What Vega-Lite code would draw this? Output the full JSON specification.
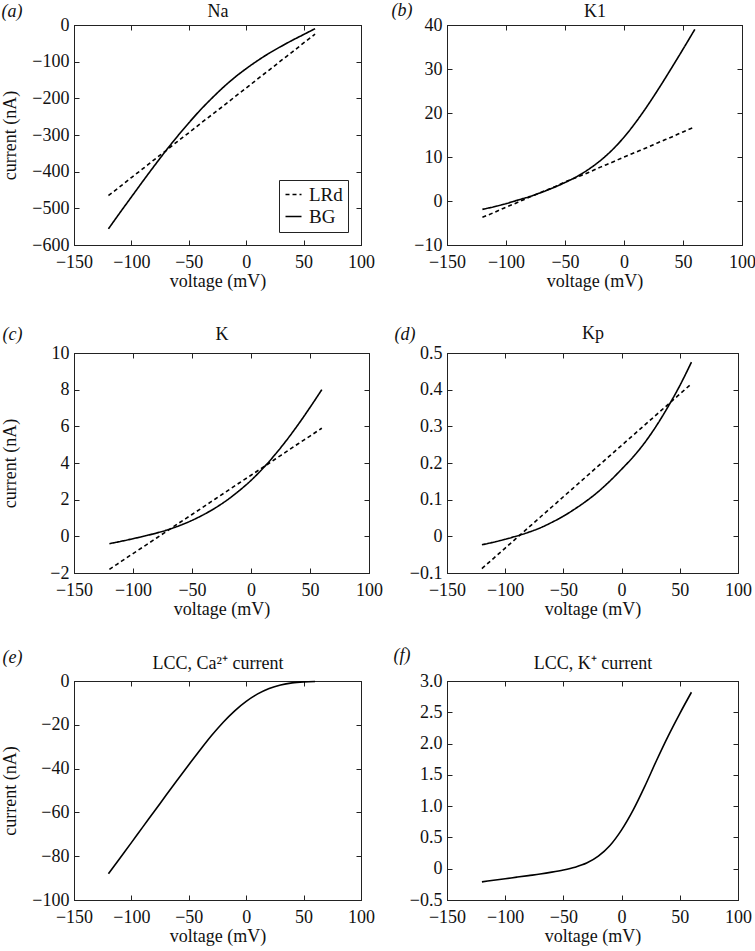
{
  "$schema": "https://vega.github.io/schema/vega-lite/v6.json",
  "padding": {"left": 0, "top": 0, "right": 0, "bottom": 0},
  "background": "white",
  "datasets": {
    "na": [
      {"model": "LRd", "voltage": -120, "current": -465}, {"model": "LRd", "voltage": -110, "current": -441}, {"model": "LRd", "voltage": -100, "current": -416}, {"model": "LRd", "voltage": -90, "current": -392}, {"model": "LRd", "voltage": -80, "current": -367}, {"model": "LRd", "voltage": -70, "current": -343}, {"model": "LRd", "voltage": -60, "current": -318}, {"model": "LRd", "voltage": -50, "current": -294}, {"model": "LRd", "voltage": -40, "current": -269}, {"model": "LRd", "voltage": -30, "current": -245}, {"model": "LRd", "voltage": -20, "current": -221}, {"model": "LRd", "voltage": -10, "current": -196}, {"model": "LRd", "voltage": 0, "current": -172}, {"model": "LRd", "voltage": 10, "current": -147}, {"model": "LRd", "voltage": 20, "current": -123}, {"model": "LRd", "voltage": 30, "current": -98}, {"model": "LRd", "voltage": 40, "current": -74}, {"model": "LRd", "voltage": 50, "current": -49}, {"model": "LRd", "voltage": 60, "current": -25},
      {"model": "BG", "voltage": -120, "current": -556}, {"model": "BG", "voltage": -110, "current": -512}, {"model": "BG", "voltage": -100, "current": -469}, {"model": "BG", "voltage": -90, "current": -426}, {"model": "BG", "voltage": -80, "current": -384}, {"model": "BG", "voltage": -70, "current": -343}, {"model": "BG", "voltage": -60, "current": -304}, {"model": "BG", "voltage": -50, "current": -267}, {"model": "BG", "voltage": -40, "current": -232}, {"model": "BG", "voltage": -30, "current": -200}, {"model": "BG", "voltage": -20, "current": -170}, {"model": "BG", "voltage": -10, "current": -143}, {"model": "BG", "voltage": 0, "current": -119}, {"model": "BG", "voltage": 10, "current": -97}, {"model": "BG", "voltage": 20, "current": -77}, {"model": "BG", "voltage": 30, "current": -59}, {"model": "BG", "voltage": 40, "current": -42}, {"model": "BG", "voltage": 50, "current": -26}, {"model": "BG", "voltage": 60, "current": -10}
    ],
    "k1": [
      {"model": "LRd", "voltage": -120, "current": -3.7}, {"model": "LRd", "voltage": -110, "current": -2.6}, {"model": "LRd", "voltage": -100, "current": -1.4}, {"model": "LRd", "voltage": -90, "current": -0.3}, {"model": "LRd", "voltage": -80, "current": 0.9}, {"model": "LRd", "voltage": -70, "current": 2.0}, {"model": "LRd", "voltage": -60, "current": 3.1}, {"model": "LRd", "voltage": -50, "current": 4.3}, {"model": "LRd", "voltage": -40, "current": 5.4}, {"model": "LRd", "voltage": -30, "current": 6.5}, {"model": "LRd", "voltage": -20, "current": 7.7}, {"model": "LRd", "voltage": -10, "current": 8.8}, {"model": "LRd", "voltage": 0, "current": 10.0}, {"model": "LRd", "voltage": 10, "current": 11.1}, {"model": "LRd", "voltage": 20, "current": 12.2}, {"model": "LRd", "voltage": 30, "current": 13.4}, {"model": "LRd", "voltage": 40, "current": 14.5}, {"model": "LRd", "voltage": 50, "current": 15.7}, {"model": "LRd", "voltage": 60, "current": 16.8},
      {"model": "BG", "voltage": -120, "current": -1.9}, {"model": "BG", "voltage": -110, "current": -1.3}, {"model": "BG", "voltage": -100, "current": -0.6}, {"model": "BG", "voltage": -90, "current": 0.2}, {"model": "BG", "voltage": -80, "current": 1.0}, {"model": "BG", "voltage": -70, "current": 1.95}, {"model": "BG", "voltage": -60, "current": 3.0}, {"model": "BG", "voltage": -50, "current": 4.2}, {"model": "BG", "voltage": -40, "current": 5.55}, {"model": "BG", "voltage": -30, "current": 7.2}, {"model": "BG", "voltage": -20, "current": 9.2}, {"model": "BG", "voltage": -10, "current": 11.6}, {"model": "BG", "voltage": 0, "current": 14.5}, {"model": "BG", "voltage": 10, "current": 17.9}, {"model": "BG", "voltage": 20, "current": 21.7}, {"model": "BG", "voltage": 30, "current": 25.8}, {"model": "BG", "voltage": 40, "current": 30.1}, {"model": "BG", "voltage": 50, "current": 34.5}, {"model": "BG", "voltage": 60, "current": 39.0}
    ],
    "k": [
      {"model": "LRd", "voltage": -120, "current": -1.8}, {"model": "LRd", "voltage": -110, "current": -1.37}, {"model": "LRd", "voltage": -100, "current": -0.94}, {"model": "LRd", "voltage": -90, "current": -0.52}, {"model": "LRd", "voltage": -80, "current": -0.09}, {"model": "LRd", "voltage": -70, "current": 0.34}, {"model": "LRd", "voltage": -60, "current": 0.77}, {"model": "LRd", "voltage": -50, "current": 1.19}, {"model": "LRd", "voltage": -40, "current": 1.62}, {"model": "LRd", "voltage": -30, "current": 2.05}, {"model": "LRd", "voltage": -20, "current": 2.48}, {"model": "LRd", "voltage": -10, "current": 2.91}, {"model": "LRd", "voltage": 0, "current": 3.33}, {"model": "LRd", "voltage": 10, "current": 3.76}, {"model": "LRd", "voltage": 20, "current": 4.19}, {"model": "LRd", "voltage": 30, "current": 4.62}, {"model": "LRd", "voltage": 40, "current": 5.05}, {"model": "LRd", "voltage": 50, "current": 5.47}, {"model": "LRd", "voltage": 60, "current": 5.9},
      {"model": "BG", "voltage": -120, "current": -0.4}, {"model": "BG", "voltage": -110, "current": -0.27}, {"model": "BG", "voltage": -100, "current": -0.13}, {"model": "BG", "voltage": -90, "current": 0.02}, {"model": "BG", "voltage": -80, "current": 0.18}, {"model": "BG", "voltage": -70, "current": 0.37}, {"model": "BG", "voltage": -60, "current": 0.6}, {"model": "BG", "voltage": -50, "current": 0.87}, {"model": "BG", "voltage": -40, "current": 1.19}, {"model": "BG", "voltage": -30, "current": 1.56}, {"model": "BG", "voltage": -20, "current": 1.99}, {"model": "BG", "voltage": -10, "current": 2.49}, {"model": "BG", "voltage": 0, "current": 3.05}, {"model": "BG", "voltage": 10, "current": 3.7}, {"model": "BG", "voltage": 20, "current": 4.43}, {"model": "BG", "voltage": 30, "current": 5.23}, {"model": "BG", "voltage": 40, "current": 6.1}, {"model": "BG", "voltage": 50, "current": 7.03}, {"model": "BG", "voltage": 60, "current": 8.0}
    ],
    "kp": [
      {"model": "LRd", "voltage": -120, "current": -0.088}, {"model": "LRd", "voltage": -110, "current": -0.06}, {"model": "LRd", "voltage": -100, "current": -0.032}, {"model": "LRd", "voltage": -90, "current": -0.004}, {"model": "LRd", "voltage": -80, "current": 0.024}, {"model": "LRd", "voltage": -70, "current": 0.052}, {"model": "LRd", "voltage": -60, "current": 0.08}, {"model": "LRd", "voltage": -50, "current": 0.108}, {"model": "LRd", "voltage": -40, "current": 0.136}, {"model": "LRd", "voltage": -30, "current": 0.164}, {"model": "LRd", "voltage": -20, "current": 0.192}, {"model": "LRd", "voltage": -10, "current": 0.22}, {"model": "LRd", "voltage": 0, "current": 0.248}, {"model": "LRd", "voltage": 10, "current": 0.276}, {"model": "LRd", "voltage": 20, "current": 0.304}, {"model": "LRd", "voltage": 30, "current": 0.332}, {"model": "LRd", "voltage": 40, "current": 0.36}, {"model": "LRd", "voltage": 50, "current": 0.388}, {"model": "LRd", "voltage": 60, "current": 0.416},
      {"model": "BG", "voltage": -120, "current": -0.023}, {"model": "BG", "voltage": -110, "current": -0.016}, {"model": "BG", "voltage": -100, "current": -0.008}, {"model": "BG", "voltage": -90, "current": 0.001}, {"model": "BG", "voltage": -80, "current": 0.011}, {"model": "BG", "voltage": -70, "current": 0.023}, {"model": "BG", "voltage": -60, "current": 0.038}, {"model": "BG", "voltage": -50, "current": 0.055}, {"model": "BG", "voltage": -40, "current": 0.075}, {"model": "BG", "voltage": -30, "current": 0.097}, {"model": "BG", "voltage": -20, "current": 0.122}, {"model": "BG", "voltage": -10, "current": 0.151}, {"model": "BG", "voltage": 0, "current": 0.183}, {"model": "BG", "voltage": 10, "current": 0.217}, {"model": "BG", "voltage": 20, "current": 0.256}, {"model": "BG", "voltage": 30, "current": 0.302}, {"model": "BG", "voltage": 40, "current": 0.354}, {"model": "BG", "voltage": 50, "current": 0.411}, {"model": "BG", "voltage": 60, "current": 0.475}
    ],
    "lccca": [
      {"model": "BG", "voltage": -120, "current": -88}, {"model": "BG", "voltage": -110, "current": -80.9}, {"model": "BG", "voltage": -100, "current": -73.8}, {"model": "BG", "voltage": -90, "current": -66.6}, {"model": "BG", "voltage": -80, "current": -59.5}, {"model": "BG", "voltage": -70, "current": -52.3}, {"model": "BG", "voltage": -60, "current": -45.2}, {"model": "BG", "voltage": -50, "current": -38.2}, {"model": "BG", "voltage": -40, "current": -31.4}, {"model": "BG", "voltage": -30, "current": -24.8}, {"model": "BG", "voltage": -20, "current": -18.8}, {"model": "BG", "voltage": -10, "current": -13.6}, {"model": "BG", "voltage": 0, "current": -9.3}, {"model": "BG", "voltage": 10, "current": -5.9}, {"model": "BG", "voltage": 20, "current": -3.4}, {"model": "BG", "voltage": 30, "current": -1.8}, {"model": "BG", "voltage": 40, "current": -0.85}, {"model": "BG", "voltage": 50, "current": -0.4}, {"model": "BG", "voltage": 60, "current": -0.2}
    ],
    "lcck": [
      {"model": "BG", "voltage": -120, "current": -0.21}, {"model": "BG", "voltage": -110, "current": -0.185}, {"model": "BG", "voltage": -100, "current": -0.16}, {"model": "BG", "voltage": -90, "current": -0.135}, {"model": "BG", "voltage": -80, "current": -0.11}, {"model": "BG", "voltage": -70, "current": -0.085}, {"model": "BG", "voltage": -60, "current": -0.055}, {"model": "BG", "voltage": -50, "current": -0.02}, {"model": "BG", "voltage": -40, "current": 0.025}, {"model": "BG", "voltage": -30, "current": 0.09}, {"model": "BG", "voltage": -20, "current": 0.2}, {"model": "BG", "voltage": -10, "current": 0.37}, {"model": "BG", "voltage": 0, "current": 0.62}, {"model": "BG", "voltage": 10, "current": 0.94}, {"model": "BG", "voltage": 20, "current": 1.32}, {"model": "BG", "voltage": 30, "current": 1.73}, {"model": "BG", "voltage": 40, "current": 2.12}, {"model": "BG", "voltage": 50, "current": 2.48}, {"model": "BG", "voltage": 60, "current": 2.82}
    ]
  },
  "columns": 2,
  "spacing": {"row": 108, "column": 78},
  "bounds": "flush",
  "resolve": {"scale": {"strokeDash": "independent"}, "legend": {"strokeDash": "independent"}},
  "concat": [
    {
      "data": {"name": "na"},
      "width": 287, "height": 220,
      "layer": [
        {"mark": {"type": "line", "color": "black", "strokeWidth": 1.6, "interpolate": "monotone"},
         "encoding": {
           "x": {"field": "voltage", "type": "quantitative", "scale": {"domain": [-150, 100], "nice": false, "zero": false}, "axis": {"orient": "bottom", "values": [-150, -100, -50, 0, 50, 100], "title": "voltage (mV)"}},
           "y": {"field": "current", "type": "quantitative", "scale": {"domain": [-600, 0], "nice": false, "zero": false}, "axis": {"orient": "left", "values": [-600, -500, -400, -300, -200, -100, 0], "title": "current (nA)", "minExtent": 44, "maxExtent": 44, "titlePadding": 10.5}},
           "strokeDash": {"field": "model", "type": "nominal", "scale": {"domain": ["LRd", "BG"], "range": [[4, 3], [1, 0]]}, "legend": {"orient": "bottom-right", "offset": 13, "title": null}}
         }},
        {"mark": {"type": "point", "opacity": 0},
         "encoding": {
           "x": {"field": "voltage", "type": "quantitative", "scale": {"domain": [-150, 100], "nice": false, "zero": false}, "axis": {"orient": "top", "labels": false, "values": [-150, -100, -50, 0, 50, 100], "title": "Na", "titlePadding": 4.5}},
           "y": {"field": "current", "type": "quantitative", "scale": {"domain": [-600, 0], "nice": false, "zero": false}, "axis": {"orient": "right", "labels": false, "values": [-600, -500, -400, -300, -200, -100, 0], "title": "(a)", "titleX": -360, "titleY": -8.5, "titleAngle": 0, "titleAlign": "left", "titleBaseline": "alphabetic", "titleFontStyle": "italic"}}
         }}
      ],
      "resolve": {"axis": {"x": "independent", "y": "independent"}}
    },
    {
      "data": {"name": "k1"},
      "width": 295, "height": 220,
      "layer": [
        {"mark": {"type": "line", "color": "black", "strokeWidth": 1.6, "interpolate": "monotone"},
         "encoding": {
           "x": {"field": "voltage", "type": "quantitative", "scale": {"domain": [-150, 100], "nice": false, "zero": false}, "axis": {"orient": "bottom", "values": [-150, -100, -50, 0, 50, 100], "title": "voltage (mV)"}},
           "y": {"field": "current", "type": "quantitative", "scale": {"domain": [-10, 40], "nice": false, "zero": false}, "axis": {"orient": "left", "values": [-10, 0, 10, 20, 30, 40], "title": null}},
           "strokeDash": {"field": "model", "type": "nominal", "scale": {"domain": ["LRd", "BG"], "range": [[4, 3], [1, 0]]}, "legend": null}
         }},
        {"mark": {"type": "point", "opacity": 0},
         "encoding": {
           "x": {"field": "voltage", "type": "quantitative", "scale": {"domain": [-150, 100], "nice": false, "zero": false}, "axis": {"orient": "top", "labels": false, "values": [-150, -100, -50, 0, 50, 100], "title": "K1", "titlePadding": 4}},
           "y": {"field": "current", "type": "quantitative", "scale": {"domain": [-10, 40], "nice": false, "zero": false}, "axis": {"orient": "right", "labels": false, "values": [-10, 0, 10, 20, 30, 40], "title": "(b)", "titleX": -351, "titleY": -10, "titleAngle": 0, "titleAlign": "left", "titleBaseline": "alphabetic", "titleFontStyle": "italic"}}
         }}
      ],
      "resolve": {"axis": {"x": "independent", "y": "independent"}}
    },
    {
      "data": {"name": "k"},
      "width": 295, "height": 220,
      "layer": [
        {"mark": {"type": "line", "color": "black", "strokeWidth": 1.6, "interpolate": "monotone"},
         "encoding": {
           "x": {"field": "voltage", "type": "quantitative", "scale": {"domain": [-150, 100], "nice": false, "zero": false}, "axis": {"orient": "bottom", "values": [-150, -100, -50, 0, 50, 100], "title": "voltage (mV)"}},
           "y": {"field": "current", "type": "quantitative", "scale": {"domain": [-2, 10], "nice": false, "zero": false}, "axis": {"orient": "left", "values": [-2, 0, 2, 4, 6, 8, 10], "title": "current (nA)", "minExtent": 44, "maxExtent": 44, "titlePadding": 10.5}},
           "strokeDash": {"field": "model", "type": "nominal", "scale": {"domain": ["LRd", "BG"], "range": [[4, 3], [1, 0]]}, "legend": null}
         }},
        {"mark": {"type": "point", "opacity": 0},
         "encoding": {
           "x": {"field": "voltage", "type": "quantitative", "scale": {"domain": [-150, 100], "nice": false, "zero": false}, "axis": {"orient": "top", "labels": false, "values": [-150, -100, -50, 0, 50, 100], "title": "K", "titlePadding": 9}},
           "y": {"field": "current", "type": "quantitative", "scale": {"domain": [-2, 10], "nice": false, "zero": false}, "axis": {"orient": "right", "labels": false, "values": [-2, 0, 2, 4, 6, 8, 10], "title": "(c)", "titleX": -367, "titleY": -14, "titleAngle": 0, "titleAlign": "left", "titleBaseline": "alphabetic", "titleFontStyle": "italic"}}
         }}
      ],
      "resolve": {"axis": {"x": "independent", "y": "independent"}}
    },
    {
      "data": {"name": "kp"},
      "width": 291, "height": 220,
      "layer": [
        {"mark": {"type": "line", "color": "black", "strokeWidth": 1.6, "interpolate": "monotone"},
         "encoding": {
           "x": {"field": "voltage", "type": "quantitative", "scale": {"domain": [-150, 100], "nice": false, "zero": false}, "axis": {"orient": "bottom", "values": [-150, -100, -50, 0, 50, 100], "title": "voltage (mV)"}},
           "y": {"field": "current", "type": "quantitative", "scale": {"domain": [-0.1, 0.5], "nice": false, "zero": false}, "axis": {"orient": "left", "values": [-0.1, 0, 0.1, 0.2, 0.3, 0.4, 0.5], "labelExpr": "datum.value === 0 ? '0' : format(datum.value, '.1f')", "title": null}},
           "strokeDash": {"field": "model", "type": "nominal", "scale": {"domain": ["LRd", "BG"], "range": [[4, 3], [1, 0]]}, "legend": null}
         }},
        {"mark": {"type": "point", "opacity": 0},
         "encoding": {
           "x": {"field": "voltage", "type": "quantitative", "scale": {"domain": [-150, 100], "nice": false, "zero": false}, "axis": {"orient": "top", "labels": false, "values": [-150, -100, -50, 0, 50, 100], "title": "Kp", "titlePadding": 10}},
           "y": {"field": "current", "type": "quantitative", "scale": {"domain": [-0.1, 0.5], "nice": false, "zero": false}, "axis": {"orient": "right", "labels": false, "values": [-0.1, 0, 0.1, 0.2, 0.3, 0.4, 0.5], "title": "(d)", "titleX": -344, "titleY": -13.5, "titleAngle": 0, "titleAlign": "left", "titleBaseline": "alphabetic", "titleFontStyle": "italic"}}
         }}
      ],
      "resolve": {"axis": {"x": "independent", "y": "independent"}}
    },
    {
      "data": {"name": "lccca"},
      "width": 287, "height": 219,
      "layer": [
        {"mark": {"type": "line", "color": "black", "strokeWidth": 1.6, "interpolate": "monotone"},
         "encoding": {
           "x": {"field": "voltage", "type": "quantitative", "scale": {"domain": [-150, 100], "nice": false, "zero": false}, "axis": {"orient": "bottom", "values": [-150, -100, -50, 0, 50, 100], "title": "voltage (mV)"}},
           "y": {"field": "current", "type": "quantitative", "scale": {"domain": [-100, 0], "nice": false, "zero": false}, "axis": {"orient": "left", "values": [-100, -80, -60, -40, -20, 0], "title": "current (nA)", "minExtent": 44, "maxExtent": 44, "titlePadding": 10.5}}
         }},
        {"mark": {"type": "point", "opacity": 0},
         "encoding": {
           "x": {"field": "voltage", "type": "quantitative", "scale": {"domain": [-150, 100], "nice": false, "zero": false}, "axis": {"orient": "top", "labels": false, "values": [-150, -100, -50, 0, 50, 100], "title": "LCC, Ca²⁺ current", "titlePadding": 8}},
           "y": {"field": "current", "type": "quantitative", "scale": {"domain": [-100, 0], "nice": false, "zero": false}, "axis": {"orient": "right", "labels": false, "values": [-100, -80, -60, -40, -20, 0], "title": "(e)", "titleX": -359, "titleY": -18.5, "titleAngle": 0, "titleAlign": "left", "titleBaseline": "alphabetic", "titleFontStyle": "italic"}}
         }}
      ],
      "resolve": {"axis": {"x": "independent", "y": "independent"}}
    },
    {
      "data": {"name": "lcck"},
      "width": 291, "height": 219,
      "layer": [
        {"mark": {"type": "line", "color": "black", "strokeWidth": 1.6, "interpolate": "monotone"},
         "encoding": {
           "x": {"field": "voltage", "type": "quantitative", "scale": {"domain": [-150, 100], "nice": false, "zero": false}, "axis": {"orient": "bottom", "values": [-150, -100, -50, 0, 50, 100], "title": "voltage (mV)"}},
           "y": {"field": "current", "type": "quantitative", "scale": {"domain": [-0.5, 3], "nice": false, "zero": false}, "axis": {"orient": "left", "values": [-0.5, 0, 0.5, 1, 1.5, 2, 2.5, 3], "labelExpr": "datum.value === 0 ? '0' : format(datum.value, '.1f')", "title": null}}
         }},
        {"mark": {"type": "point", "opacity": 0},
         "encoding": {
           "x": {"field": "voltage", "type": "quantitative", "scale": {"domain": [-150, 100], "nice": false, "zero": false}, "axis": {"orient": "top", "labels": false, "values": [-150, -100, -50, 0, 50, 100], "title": "LCC, K⁺ current", "titlePadding": 8}},
           "y": {"field": "current", "type": "quantitative", "scale": {"domain": [-0.5, 3], "nice": false, "zero": false}, "axis": {"orient": "right", "labels": false, "values": [-0.5, 0, 0.5, 1, 1.5, 2, 2.5, 3], "title": "(f)", "titleX": -345, "titleY": -21, "titleAngle": 0, "titleAlign": "left", "titleBaseline": "alphabetic", "titleFontStyle": "italic"}}
         }}
      ],
      "resolve": {"axis": {"x": "independent", "y": "independent"}}
    }
  ],
  "config": {
    "view": {"stroke": "#222", "strokeWidth": 1},
    "axis": {"grid": false, "domainColor": "#222", "domainWidth": 1, "tickColor": "#222", "tickSize": -5, "tickWidth": 1, "labelFont": "Liberation Serif", "labelFontSize": 18, "labelColor": "#111", "labelPadding": 10, "labelFlush": false, "labelOverlap": false, "titleFont": "Liberation Serif", "titleFontSize": 18, "titleFontWeight": "normal", "titleColor": "#111"},
    "axisBottom": {"labelPadding": 13, "titlePadding": 1},
    "legend": {"strokeColor": "#222", "fillColor": "white", "padding": 5, "symbolType": "stroke", "symbolSize": 256, "symbolStrokeWidth": 1.6, "symbolStrokeColor": "black", "labelFont": "Liberation Serif", "labelFontSize": 19, "labelColor": "#111", "rowPadding": 2, "labelOffset": 6, "cornerRadius": 0}
  }
}
